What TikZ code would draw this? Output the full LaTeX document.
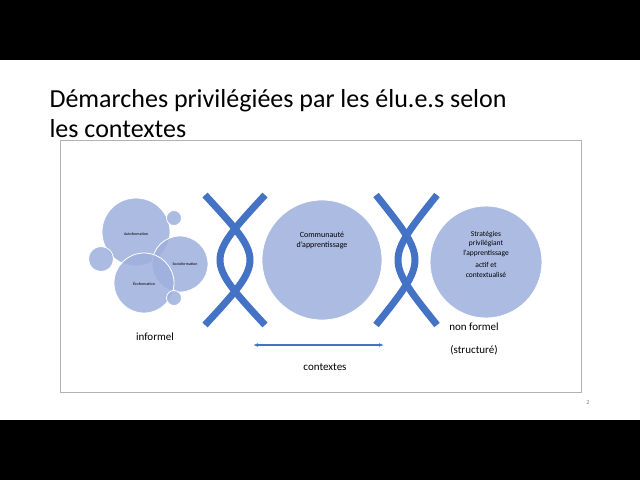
\documentclass[tikz,border=0pt]{standalone}
\usepackage{fontspec}
\usetikzlibrary{arrows.meta}
\setmainfont{Carlito}
\begin{document}
\begin{tikzpicture}[x=1pt,y=-1pt]
\definecolor{cfill}{RGB}{158,176,222}
\definecolor{arcb}{RGB}{68,114,196}
\tikzset{bub/.style={circle,fill=cfill,fill opacity=0.85,draw=white,line width=0.8pt,text opacity=1,inner sep=0pt,align=center},
  brk/.style={draw=arcb,line width=7pt},
  lbl/.style={font=\fontsize{11}{13}\selectfont,align=center}}
\fill[black] (0,0) rectangle (640,480);
\fill[white] (0,60) rectangle (640,420);
\useasboundingbox (0,0) rectangle (640,480);
\node[anchor=west,font=\fontsize{26}{30}\selectfont,align=left] (title) at (46,114) {Démarches privilégiées par les élu.e.s selon\\les contextes};
\draw[gray!60,line width=0.6pt] (60,140) rectangle (581,392);
\node[font=\fontsize{6}{7}\selectfont,text=gray] (pg) at (588,403) {2};
\node[bub,minimum size=68pt] (auto) at (136,232) {};
\node[bub,minimum size=56pt] (soc) at (180,264) {};
\node[bub,minimum size=60pt] (eco) at (144,283) {};
\node[bub,minimum size=15pt] (s1) at (174,218) {};
\node[bub,minimum size=25pt] (s2) at (101,259) {};
\node[bub,minimum size=15pt] (s3) at (174,298) {};
\node[font=\fontsize{4}{5}\selectfont] (ta) at (136,234) {Autoformation};
\node[font=\fontsize{4}{5}\selectfont] (ts) at (185,264) {Socioformation};
\node[font=\fontsize{4}{5}\selectfont] (te) at (144,284) {Écoformation};
\coordinate (a1s) at (205,195); \coordinate (a1e) at (205,325);
\coordinate (a2s) at (265,195); \coordinate (a2e) at (265,325);
\coordinate (a3s) at (376,195); \coordinate (a3e) at (376,325);
\coordinate (a4s) at (437,195); \coordinate (a4e) at (437,325);
\draw[brk] (a1s) .. controls (265,260) .. (a1e);
\draw[brk] (a2s) .. controls (205,260) .. (a2e);
\draw[brk] (a3s) .. controls (428,260) .. (a3e);
\draw[brk] (a4s) .. controls (385,260) .. (a4e);
\node[bub,minimum size=120pt] (com) at (322,260) {};
\node[lbl,font=\fontsize{8}{10}\selectfont] (tc) at (322,240) {Communauté\\d'apprentissage};
\node[bub,minimum size=112pt] (strat) at (486,262) {};
\node[lbl,font=\fontsize{7.5}{9.5}\selectfont] (tst) at (486,254) {Stratégies\\privilégiant\\l'apprentissage\\[3pt]actif et\\contextualisé};
\node[lbl] (inf) at (155,337) {informel};
\node[lbl] (ctx) at (325,367) {contextes};
\node[lbl] (nf) at (474,327) {non formel};
\node[lbl] (str) at (474,350) {(structuré)};
\coordinate (arL) at (253,345); \coordinate (arR) at (384,345);
\draw[arcb,line width=1.6pt,{Latex[length=5pt]}-{Latex[length=5pt]}] (arL) -- (arR);
\end{tikzpicture}
\end{document}
